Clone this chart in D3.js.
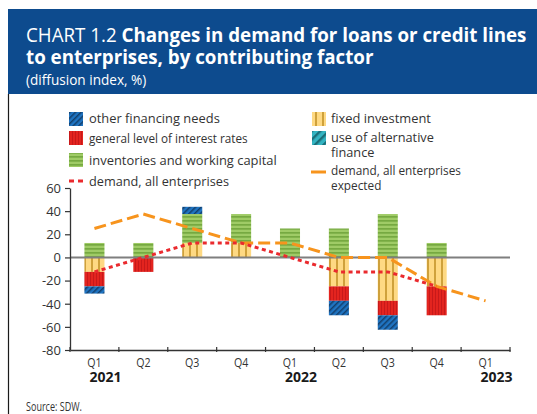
<!DOCTYPE html>
<html>
<head>
<meta charset="utf-8">
<script src="https://cdn.jsdelivr.net/npm/d3@7"></script>
<style>
  body { margin: 0; background: #fff; }
  svg { display: block; font-family: "Open Sans", "Noto Sans", sans-serif; }
</style>
</head>
<body>
<svg id="chart" width="537" height="414"></svg>
<script>
// Quarters on the x axis and the year shown under each first quarter
const quarters = ["Q1", "Q2", "Q3", "Q4", "Q1", "Q2", "Q3", "Q4", "Q1"];
const years = ["2021", "", "", "", "2022", "", "", "", "2023"];

// Contributing factors (diffusion index, %)
const otherFinancing     = [-6.25, 0, 6.25, 0, 0, -12.5, -12.5, 0, null];
const interestRates      = [-12.5, -12.5, 0, 0, 0, -12.5, -12.5, -25, null];
const inventories        = [12.5, 12.5, 25, 25, 25, 25, 37.5, 12.5, null];
const fixedInvestment    = [-12.5, 0, 12.5, 12.5, 0, -25, -37.5, -25, null];
const alternativeFinance = [0, 0, 0, 0, 0, 0, 0, 0, null];

// Overall demand and expected demand
const demand         = [-12.5, 0, 12.5, 12.5, 0, -12.5, -12.5, -25, null];
const demandExpected = [25, 37.5, 25, 12.5, 12.5, 0, 0, -25, -37.5];

const yTicks = [-80, -60, -40, -20, 0, 20, 40, 60];

const svg = d3.select("#chart");
const defs = svg.append("defs");

// Fill patterns for the factor bars
function stripes(id, w, h, base, ink, inkW, rotate, horizontal) {
  const p = defs.append("pattern")
    .attr("id", id).attr("patternUnits", "userSpaceOnUse")
    .attr("width", w).attr("height", h);
  if (rotate) p.attr("patternTransform", `rotate(${rotate})`);
  p.append("rect").attr("width", w).attr("height", h).attr("fill", base);
  if (horizontal) p.append("rect").attr("y", 0).attr("width", w).attr("height", inkW).attr("fill", ink);
  else p.append("rect").attr("x", 0).attr("width", inkW).attr("height", h).attr("fill", ink);
}
stripes("pat-other", 4, 4, "#1f74c2", "#133f6c", 1.5, 45, false);
stripes("pat-rates", 3, 4, "#e3241f", "#c8191a", 1, 0, false);
stripes("pat-inv", 6, 4, "#9fcb66", "#76a941", 1.7, 0, true);
stripes("pat-fixed", 7, 6, "#fed983", "#cfa13b", 2, 0, false);
stripes("pat-alt", 6, 6, "#33b4c2", "#1a6e79", 2.4, 45, false);

const series = [
  { key: "fixed", label: "fixed investment", values: fixedInvestment, fill: "url(#pat-fixed)" },
  { key: "inv", label: "inventories and working capital", values: inventories, fill: "url(#pat-inv)" },
  { key: "rates", label: "general level of interest rates", values: interestRates, fill: "url(#pat-rates)" },
  { key: "other", label: "other financing needs", values: otherFinancing, fill: "url(#pat-other)" },
  { key: "alt", label: "use of alternative finance", values: alternativeFinance, fill: "url(#pat-alt)" }
];

// Header band and the frame line on its left
svg.append("rect").attr("x", 8).attr("y", 9).attr("width", 529).attr("height", 85).attr("fill", "#0d4b8e");
svg.append("line").attr("x1", 8.5).attr("x2", 8.5).attr("y1", 94).attr("y2", 414)
  .attr("stroke", "#1a1a1a").attr("stroke-width", 1.2);

// Squeeze a text horizontally so its widest (or first) line spans the given width
function textAt(x, y, target, build) {
  const g = svg.append("g").attr("transform", `translate(${x},${y})`);
  const t = g.append("text");
  const first = build(t);
  if (target) {
    const w = first ? first.node().getComputedTextLength() : t.node().getBBox().width;
    g.attr("transform", `translate(${x},${y}) scale(${target / w},1)`);
  }
  return g;
}

// Title block: one text with three lines
textAt(26, 42, 501, t => {
  t.attr("fill", "#fff").attr("font-size", 20);
  t.append("tspan").attr("x", 0).text("CHART 1.2 ");
  t.append("tspan").attr("font-weight", 700).text("Changes in demand for loans or credit lines");
  t.append("tspan").attr("x", 0).attr("dy", 22).attr("font-weight", 700)
    .text("to enterprises, by contributing factor");
  t.append("tspan").attr("x", 0).attr("dy", 21).attr("font-size", 14.5)
    .text("(diffusion index, %)");
  return null;
});

// Scales
const x = d3.scaleBand().domain(d3.range(quarters.length)).range([70, 510])
  .paddingInner(0.59).paddingOuter(0.295);
const y = d3.scaleLinear().domain([-80, 60]).range([350, 188]);
const step = x.step();
const left = x.range()[0];

// Stacked bars, positives upward and negatives downward
const rows = quarters.map((q, i) => {
  const r = { i };
  series.forEach(s => r[s.key] = s.values[i] == null ? 0 : s.values[i]);
  return r;
});
const stack = d3.stack().keys(series.map(s => s.key))
  .order(d3.stackOrderNone).offset(d3.stackOffsetDiverging);
const layers = stack(rows);

const barsG = svg.append("g");
layers.forEach((layer, k) => {
  barsG.append("g").attr("fill", series[k].fill)
    .selectAll("rect")
    .data(layer.filter(d => d[1] !== d[0]))
    .join("rect")
    .attr("x", d => x(d.data.i))
    .attr("width", x.bandwidth())
    .attr("y", d => y(Math.max(d[0], d[1])))
    .attr("height", d => Math.abs(y(d[0]) - y(d[1])));
});

// Zero line
svg.append("line").attr("x1", left).attr("x2", x.range()[1])
  .attr("y1", y(0)).attr("y2", y(0)).attr("stroke", "#7f7f7f").attr("stroke-width", 2);

// Y axis
const yAxis = svg.append("g").attr("transform", `translate(${left},0)`)
  .call(d3.axisLeft(y).tickValues(yTicks).tickFormat(d => String(d)).tickSize(5).tickSizeOuter(0));
yAxis.select(".domain").attr("stroke", "#333").attr("stroke-width", 1.3);
yAxis.selectAll(".tick line").attr("stroke", "#333").attr("stroke-width", 1.2);
yAxis.selectAll(".tick text").attr("font-size", 13).attr("fill", "#333")
  .attr("font-family", "'Open Sans', sans-serif").attr("x", -9).attr("dy", "0.34em");

// X axis: labels from the band scale, ticks on the band boundaries
const xAxis = svg.append("g").attr("transform", `translate(0,${y(-80)})`)
  .call(d3.axisBottom(x).tickSize(0).tickFormat(i => quarters[i]));
xAxis.select(".domain").attr("stroke", "#333").attr("stroke-width", 1.3);
xAxis.selectAll(".tick text").attr("font-size", 12.5).attr("fill", "#333")
  .attr("font-family", "'Open Sans', sans-serif").attr("y", 8).attr("dy", "0.71em")
  .attr("transform", "scale(0.85,1)");
xAxis.selectAll(".bound").data(d3.range(quarters.length + 1)).join("line")
  .attr("class", "bound")
  .attr("x1", i => left + i * step).attr("x2", i => left + i * step)
  .attr("y1", -3).attr("y2", 2).attr("stroke", "#333").attr("stroke-width", 1.2);
xAxis.selectAll(".year").data(d3.range(quarters.length).filter(i => years[i])).join("text")
  .attr("class", "year")
  .attr("text-anchor", "start")
  .attr("x", i => x(i) + x.bandwidth() / 2 - 5).attr("y", 32)
  .attr("font-size", 14).attr("font-weight", 700).attr("fill", "#1a1a1a")
  .attr("font-family", "'Open Sans', sans-serif")
  .text(i => years[i]);

// Demand lines
const cx = i => x(i) + x.bandwidth() / 2;
const lineGen = d3.line().defined(d => d != null).x((d, i) => cx(i)).y(d => y(d));
svg.append("path").datum(demandExpected).attr("d", lineGen)
  .attr("fill", "none").attr("stroke", "#f7941d").attr("stroke-width", 3)
  .attr("stroke-dasharray", "12,5");
svg.append("path").datum(demand).attr("d", lineGen)
  .attr("fill", "none").attr("stroke", "#ea2a2e").attr("stroke-width", 3)
  .attr("stroke-dasharray", "4,3.5");

// Legend
function swatch(xx, yy, fill) {
  svg.append("rect").attr("x", xx).attr("y", yy).attr("width", 14).attr("height", 14).attr("fill", fill);
}
swatch(69, 112, "url(#pat-other)");
swatch(69, 131, "url(#pat-rates)");
swatch(69, 153, "url(#pat-inv)");
svg.append("line").attr("x1", 69).attr("x2", 84).attr("y1", 181).attr("y2", 181)
  .attr("stroke", "#ea2a2e").attr("stroke-width", 3).attr("stroke-dasharray", "5,4");
swatch(312, 112, "url(#pat-fixed)");
swatch(312, 131, "url(#pat-alt)");
svg.append("line").attr("x1", 311).attr("x2", 326).attr("y1", 172).attr("y2", 172)
  .attr("stroke", "#f7941d").attr("stroke-width", 3);

// Legend labels: [x, baseline, lines, width of first line]
const legendLabels = [
  [89, 123, ["other financing needs"], 131],
  [89, 143, ["general level of interest rates"], 159],
  [89, 165, ["inventories and working capital"], 188],
  [89, 186, ["demand, all enterprises"], 140],
  [331, 123, ["fixed investment"], 100],
  [331, 142, ["use of alternative", "finance"], 103],
  [331, 175, ["demand, all enterprises", "expected"], 130]
];
legendLabels.forEach(([xx, yy, lines, w]) => {
  textAt(xx, yy, w, t => {
    t.attr("font-size", 13.5).attr("fill", "#333");
    const spans = t.selectAll("tspan").data(lines).join("tspan")
      .attr("x", 0).attr("dy", (d, i) => i ? 15 : 0).text(d => d);
    return d3.select(spans.nodes()[0]);
  });
});

// Source note
textAt(26, 411, 56, t => t.attr("font-size", 12.5).attr("fill", "#333").text("Source: SDW."));
</script>
</body>
</html>
